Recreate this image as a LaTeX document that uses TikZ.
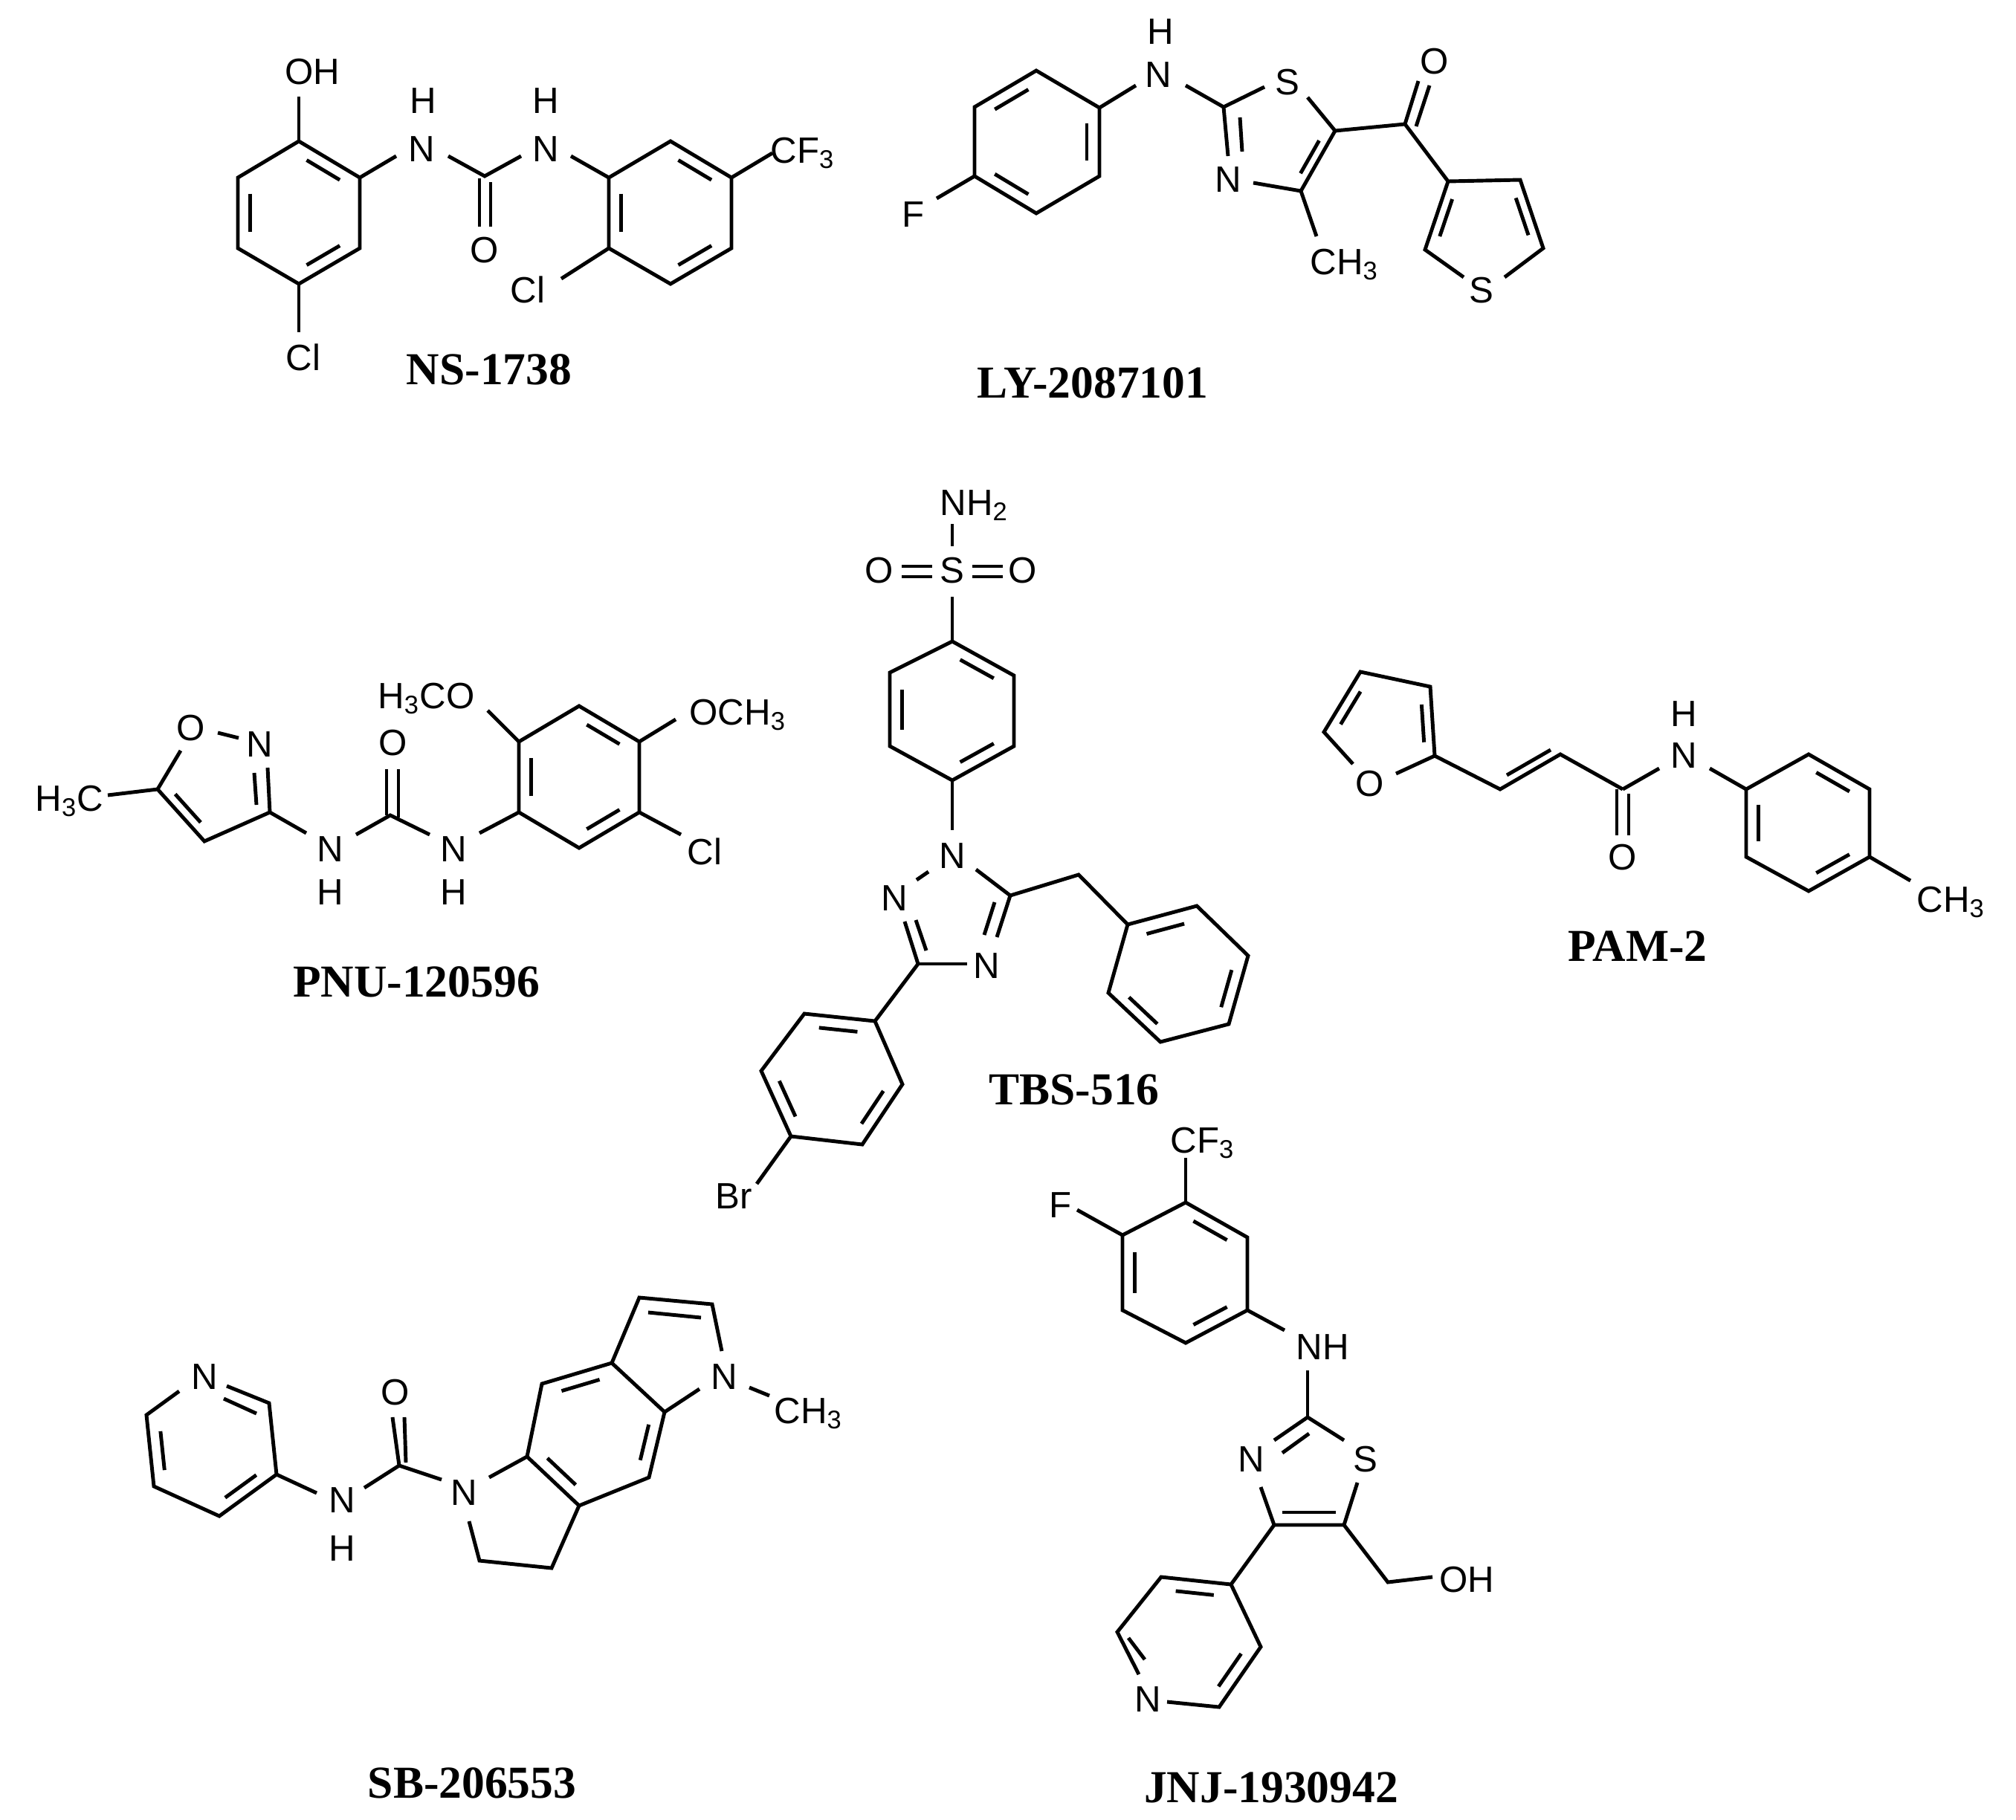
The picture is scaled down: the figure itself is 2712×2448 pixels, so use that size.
\documentclass[tikz,border=0pt]{standalone}
\usepackage{fontspec}
\setmainfont{Liberation Sans}
\newfontfamily\namefont{Liberation Serif}
\usetikzlibrary{calc}
\newcommand\rdb[3]{\draw ($(#1)!0.16!(#2)!0.2!(#3)$) -- ($(#2)!0.16!(#1)!0.2!(#3)$);}
\newcommand\ring[6]{\draw (#1)--(#2)--(#3)--(#4)--(#5)--(#6)--cycle;}
\begin{document}
\begin{tikzpicture}[x=0.01cm,y=-0.01cm,line width=1.4pt,line join=miter,
  atm/.style={inner sep=0pt,font=\fontsize{14}{16}\selectfont},
  nm/.style={inner sep=0pt,font=\fontsize{17.5}{20}\selectfont\namefont\bfseries}]
\useasboundingbox (0,0) rectangle (2712,2448);
% ================= NS-1738
\coordinate (a1) at (402,190); \coordinate (a2) at (484,239); \coordinate (a3) at (484,334);
\coordinate (a4) at (402,382); \coordinate (a5) at (320,334); \coordinate (a6) at (320,239);
\coordinate (ca) at (402,286);
\ring{a1}{a2}{a3}{a4}{a5}{a6}
\rdb{a1}{a2}{ca}\rdb{a6}{a5}{ca}\rdb{a3}{a4}{ca}
\coordinate (ohb) at (402,130); \draw (a1)--(ohb); \node[atm] (oh) at (420,97) {OH};
\coordinate (cl1b) at (402,447); \draw (a4)--(cl1b); \node[atm] (cl1) at (408,481) {Cl};
\coordinate (n1a) at (533,210); \draw (a2)--(n1a);
\node[atm] (n1) at (567,201) {N}; \node[atm] (h1) at (569,136) {H};
\coordinate (n1b) at (603,210); \coordinate (c1) at (652,237); \coordinate (n2a) at (701,210);
\draw (n1b)--(c1)--(n2a);
\draw (645,240)--(645,305); \draw (660,245)--(660,305);
\node[atm] (o1) at (652,337) {O};
\node[atm] (n2) at (734,201) {N}; \node[atm] (h2) at (734,136) {H};
\coordinate (b1) at (902,190); \coordinate (b2) at (984,239); \coordinate (b3) at (984,334);
\coordinate (b4) at (902,382); \coordinate (b5) at (819,334); \coordinate (b6) at (819,239);
\coordinate (cb) at (902,286);
\coordinate (n2b) at (768,210); \draw (n2b)--(b6);
\ring{b1}{b2}{b3}{b4}{b5}{b6}
\rdb{b1}{b2}{cb}\rdb{b6}{b5}{cb}\rdb{b3}{b4}{cb}
\coordinate (cl2b) at (755,375); \draw (b5)--(cl2b); \node[atm] (cl2) at (710,390) {Cl};
\coordinate (cf1b) at (1039,206); \draw (b2)--(cf1b); \node[atm,anchor=west] (cf1) at (1034,206) {CF\textsubscript{3}};
\node[nm] (lab1) at (658,497) {NS-1738};
% ================= LY-2087101
\coordinate (p1) at (1394,95); \coordinate (p2) at (1479,145); \coordinate (p3) at (1479,237);
\coordinate (p4) at (1394,287); \coordinate (p5) at (1311,237); \coordinate (p6) at (1311,144);
\coordinate (cp) at (1394,191);
\ring{p1}{p2}{p3}{p4}{p5}{p6}
\rdb{p6}{p1}{cp}\rdb{p2}{p3}{cp}\rdb{p5}{p4}{cp}
\coordinate (fb) at (1260,267); \draw (p5)--(fb); \node[atm] (f1) at (1229,289) {F};
\coordinate (n3a) at (1528,115); \draw (p2)--(n3a);
\node[atm] (n3) at (1558,101) {N}; \node[atm] (h3) at (1561,43) {H};
\coordinate (n3b) at (1595,115); \coordinate (t2) at (1646,144); \coordinate (s1a) at (1701,117);
\draw (n3b)--(t2)--(s1a); \node[atm] (s1) at (1732,111) {S};
\coordinate (s1b) at (1759,131); \coordinate (t5) at (1796,176); \coordinate (t4) at (1750,257);
\coordinate (n4a) at (1686,246); \coordinate (ct) at (1718,190);
\draw (s1b)--(t5)--(t4)--(n4a); \node[atm] (n4) at (1652,242) {N};
\coordinate (n4b) at (1652,210); \draw (t2)--(n4b); \draw (1668,158)--(1671,204);
\rdb{t5}{t4}{ct}
\coordinate (me1b) at (1771,318); \draw (t4)--(me1b); \node[atm,anchor=west] (me1) at (1760,356) {CH\textsubscript{3}};
\coordinate (k) at (1890,167); \draw (t5)--(k);
\draw (k)--(1908,109); \draw (1905,170)--(1923,115); \node[atm] (o2) at (1930,83) {O};
\coordinate (h3c) at (1948,244); \coordinate (h4c) at (2045,242); \coordinate (h5c) at (2076,334);
\coordinate (h2c) at (1917,336); \coordinate (s2a) at (2024,373); \coordinate (s2b) at (1969,373);
\coordinate (ch) at (1996,305);
\draw (k)--(h3c)--(h4c)--(h5c)--(s2a); \draw (s2b)--(h2c)--(h3c);
\node[atm] (s2) at (1993,391) {S};
\rdb{h3c}{h2c}{ch}\rdb{h4c}{h5c}{ch}
\node[nm] (lab2) at (1470,515) {LY-2087101};
% ================= PNU-120596
\coordinate (i5) at (212,1062); \coordinate (i3) at (363,1093); \coordinate (i4) at (275,1132);
\coordinate (ci) at (290,1050);
\coordinate (o3a) at (243,1010); \draw (i5)--(o3a); \node[atm] (o3) at (257,980) {O};
\draw (293,986)--(321,993); \node[atm] (n5) at (349,1002) {N};
\coordinate (n5b) at (360,1033); \draw (n5b)--(i3)--(i4)--(i5);
\draw (342,1040)--(345,1083); \rdb{i4}{i5}{ci}
\coordinate (me2b) at (145,1070); \draw (i5)--(me2b);
\node[atm,anchor=east] (me2) at (142,1078) {H\textsubscript{3}C};
\coordinate (n6a) at (412,1121); \draw (i3)--(n6a);
\node[atm] (n6) at (444,1143) {N}; \node[atm] (h6) at (444,1201) {H};
\coordinate (n6b) at (479,1123); \coordinate (c2) at (525,1097); \coordinate (n7a) at (578,1123);
\draw (n6b)--(c2)--(n7a);
\draw (520,1097)--(520,1035); \draw (536,1100)--(536,1035);
\node[atm] (o4) at (529,1000) {O};
\node[atm] (n7) at (610,1143) {N}; \node[atm] (h7) at (610,1201) {H};
\coordinate (r1) at (698,1093); \coordinate (r2) at (698,998); \coordinate (r3) at (779,950);
\coordinate (r4) at (860,998); \coordinate (r5) at (860,1093); \coordinate (r6) at (779,1141);
\coordinate (cr) at (779,1045);
\coordinate (n7b) at (645,1121); \draw (n7b)--(r1);
\ring{r1}{r2}{r3}{r4}{r5}{r6}
\rdb{r1}{r2}{cr}\rdb{r3}{r4}{cr}\rdb{r5}{r6}{cr}
\coordinate (om1b) at (656,956); \draw (r2)--(om1b);
\node[atm,anchor=east] (om1) at (641,940) {H\textsubscript{3}CO};
\coordinate (om2b) at (909,968); \draw (r4)--(om2b);
\node[atm,anchor=west] (om2) at (925,962) {OCH\textsubscript{3}};
\coordinate (cl3b) at (916,1123); \draw (r5)--(cl3b); \node[atm] (cl3) at (948,1146) {Cl};
\node[nm] (lab3) at (560,1321) {PNU-120596};
% ================= TBS-516
\node[atm,anchor=west] (nh2) at (1262,680) {NH\textsubscript{2}};
\node[atm] (s3) at (1281,768) {S};
\draw (1281,705)--(1281,735);
\node[atm] (o5) at (1183,768) {O}; \node[atm] (o6) at (1376,768) {O};
\draw (1213,762)--(1254,762); \draw (1213,776)--(1254,776);
\draw (1308,762)--(1349,762); \draw (1308,776)--(1349,776);
\coordinate (s3b) at (1281,803);
\coordinate (u1) at (1281,863); \coordinate (u2) at (1364,909); \coordinate (u3) at (1364,1004);
\coordinate (u4) at (1281,1050); \coordinate (u5) at (1197,1004); \coordinate (u6) at (1197,905);
\coordinate (cu) at (1281,957);
\draw (s3b)--(u1);
\ring{u1}{u2}{u3}{u4}{u5}{u6}
\rdb{u1}{u2}{cu}\rdb{u6}{u5}{cu}\rdb{u3}{u4}{cu}
\coordinate (n8a) at (1281,1117); \draw (u4)--(n8a);
\node[atm] (n8) at (1281,1152) {N};
\draw (1249,1173)--(1233,1184); \node[atm] (n9) at (1203,1209) {N};
\coordinate (v3) at (1235,1297); \coordinate (v5) at (1359,1205); \coordinate (cv) at (1282,1240);
\coordinate (n9b) at (1217,1240); \draw (n9b)--(v3);
\draw (1232,1238)--(1246,1279);
\coordinate (n10a) at (1301,1297); \draw (v3)--(n10a);
\node[atm] (n10) at (1327,1300) {N};
\coordinate (n10b) at (1341,1261); \draw (n10b)--(v5);
\draw (1324,1258)--(1338,1214);
\coordinate (n8b) at (1313,1170); \draw (v5)--(n8b);
\coordinate (m1) at (1451,1177);
\coordinate (w1) at (1517,1244); \coordinate (w2) at (1610,1219); \coordinate (w3) at (1679,1286);
\coordinate (w4) at (1653,1378); \coordinate (w5) at (1561,1402); \coordinate (w6) at (1491,1336);
\coordinate (cw) at (1585,1323);
\draw (v5)--(m1)--(w1);
\ring{w1}{w2}{w3}{w4}{w5}{w6}
\rdb{w1}{w2}{cw}\rdb{w3}{w4}{cw}\rdb{w5}{w6}{cw}
\coordinate (x1) at (1177,1374); \coordinate (x2) at (1082,1364); \coordinate (x3) at (1024,1441);
\coordinate (x4) at (1064,1529); \coordinate (x5) at (1160,1540); \coordinate (x6) at (1214,1459);
\coordinate (cx) at (1120,1452);
\draw (v3)--(x1);
\ring{x1}{x2}{x3}{x4}{x5}{x6}
\rdb{x1}{x2}{cx}\rdb{x3}{x4}{cx}\rdb{x5}{x6}{cx}
\coordinate (brb) at (1018,1593); \draw (x4)--(brb); \node[atm] (br) at (987,1610) {Br};
\node[nm] (lab4) at (1445,1466) {TBS-516};
% ================= PAM-2
\node[atm] (o7) at (1843,1055) {O};
\coordinate (f2) at (1930,1017); \coordinate (f3) at (1924,924); \coordinate (f4) at (1830,904);
\coordinate (f5) at (1781,985); \coordinate (cf) at (1862,985);
\coordinate (o7a) at (1820,1028); \coordinate (o7b) at (1878,1041);
\draw (o7a)--(f5)--(f4)--(f3)--(f2)--(o7b);
\rdb{f2}{f3}{cf}\rdb{f4}{f5}{cf}
\coordinate (g1) at (2018,1062); \coordinate (g2) at (2099,1015); \coordinate (k2) at (2183,1062);
\draw (f2)--(g1)--(g2)--(k2);
\draw (2027,1043)--(2086,1009);
\draw (2175,1062)--(2175,1124); \draw (2191,1068)--(2191,1124);
\node[atm] (o8) at (2183,1154) {O};
\coordinate (n11a) at (2232,1034); \draw (k2)--(n11a);
\node[atm] (n11) at (2265,1017) {N}; \node[atm] (h11) at (2265,961) {H};
\coordinate (q1) at (2349,1062); \coordinate (q2) at (2433,1015); \coordinate (q3) at (2515,1062);
\coordinate (q4) at (2515,1153); \coordinate (q5) at (2433,1199); \coordinate (q6) at (2349,1153);
\coordinate (cq) at (2432,1107);
\coordinate (n11b) at (2300,1034); \draw (n11b)--(q1);
\ring{q1}{q2}{q3}{q4}{q5}{q6}
\rdb{q2}{q3}{cq}\rdb{q1}{q6}{cq}\rdb{q4}{q5}{cq}
\coordinate (me3b) at (2570,1185); \draw (q4)--(me3b);
\node[atm,anchor=west] (me3) at (2576,1214) {CH\textsubscript{3}};
\node[nm] (lab5) at (2203,1273) {PAM-2};
% ================= SB-206553
\node[atm] (n12) at (275,1853) {N};
\coordinate (s2p) at (362,1888); \coordinate (s3p) at (372,1984); \coordinate (s4p) at (295,2040);
\coordinate (s5p) at (207,2000); \coordinate (s6p) at (197,1904); \coordinate (cs) at (285,1952);
\coordinate (n12a) at (241,1872); \coordinate (n12b) at (305,1865);
\draw (n12a)--(s6p)--(s5p)--(s4p)--(s3p)--(s2p)--(n12b);
\draw (301,1882)--(345,1902);
\rdb{s3p}{s4p}{cs}\rdb{s5p}{s6p}{cs}
\coordinate (n13a) at (426,2009); \draw (s3p)--(n13a);
\node[atm] (n13) at (460,2019) {N}; \node[atm] (h13) at (460,2084) {H};
\coordinate (n13b) at (490,2002); \coordinate (cc) at (537,1972); \coordinate (n14a) at (594,1991);
\draw (n13b)--(cc)--(n14a);
\draw (cc)--(528,1907); \draw (546,1968)--(544,1907);
\node[atm] (o9) at (532,1874) {O};
\node[atm] (n14) at (624,2009) {N};
\coordinate (y7a) at (709,1960); \coordinate (y3a) at (779,2026); \coordinate (y4) at (873,1988);
\coordinate (y4a) at (894,1900); \coordinate (y8a) at (823,1834); \coordinate (y8) at (729,1862);
\coordinate (cy) at (801,1928);
\coordinate (n14b) at (658,1988); \coordinate (n14c) at (631,2047);
\coordinate (ch1) at (645,2100); \coordinate (ch2) at (742,2110);
\draw (n14b)--(y7a); \draw (n14c)--(ch1)--(ch2)--(y3a);
\ring{y7a}{y3a}{y4}{y4a}{y8a}{y8}
\rdb{y7a}{y3a}{cy}\rdb{y4}{y4a}{cy}\rdb{y8a}{y8}{cy}
\coordinate (z3) at (860,1746); \coordinate (z2) at (958,1755); \coordinate (n15a) at (971,1818);
\coordinate (n15b) at (941,1869);
\draw (y8a)--(z3)--(z2)--(n15a); \draw (n15b)--(y4a);
\draw (872,1766)--(943,1773);
\node[atm] (n15) at (974,1853) {N};
\draw (1008,1867)--(1035,1878);
\node[atm,anchor=west] (me4) at (1039,1902) {CH\textsubscript{3}};
\node[nm] (lab6) at (635,2399) {SB-206553};
% ================= JNJ-1930942
\node[atm,anchor=west] (cf2) at (1572,1538) {CF\textsubscript{3}};
\coordinate (j3) at (1595,1618); \coordinate (j2) at (1678,1665); \coordinate (j1) at (1678,1763);
\coordinate (j6) at (1595,1807); \coordinate (j5) at (1510,1763); \coordinate (j4) at (1510,1662);
\coordinate (cj) at (1594,1713);
\coordinate (cf2b) at (1595,1558); \draw (cf2b)--(j3);
\ring{j3}{j2}{j1}{j6}{j5}{j4}
\rdb{j3}{j2}{cj}\rdb{j4}{j5}{cj}\rdb{j1}{j6}{cj}
\coordinate (f2b) at (1449,1628); \draw (j4)--(f2b); \node[atm] (fj) at (1427,1622) {F};
\coordinate (n16a) at (1728,1790); \draw (j1)--(n16a);
\node[atm,anchor=west] (n16) at (1741,1813) {NH};
\coordinate (n16b) at (1759,1844); \coordinate (l2) at (1759,1907); \draw (n16b)--(l2);
\coordinate (s4a) at (1808,1938); \draw (l2)--(s4a); \node[atm] (s4) at (1837,1964) {S};
\coordinate (s4b) at (1826,1995); \coordinate (l5) at (1808,2052); \coordinate (l4) at (1714,2052);
\coordinate (n17a) at (1696,2001); \coordinate (n17b) at (1714,1938);
\draw (s4b)--(l5)--(l4)--(n17a); \draw (n17b)--(l2);
\draw (1725,1955)--(1761,1929); \draw (1725,2035)--(1797,2035);
\node[atm] (n17) at (1683,1964) {N};
\coordinate (ch3) at (1867,2129); \coordinate (ohjb) at (1927,2122);
\draw (l5)--(ch3)--(ohjb); \node[atm,anchor=west] (ohj) at (1934,2126) {OH};
\coordinate (o1p) at (1656,2132); \coordinate (o2p) at (1562,2122); \coordinate (o3p) at (1503,2196);
\coordinate (o5p) at (1640,2297); \coordinate (o6p) at (1696,2216); \coordinate (cop) at (1600,2210);
\coordinate (n18a) at (1532,2253); \coordinate (n18b) at (1570,2290);
\draw (l4)--(o1p);
\draw (n18a)--(o3p)--(o2p)--(o1p)--(o6p)--(o5p)--(n18b);
\node[atm] (n18) at (1544,2287) {N};
\rdb{o1p}{o2p}{cop}\rdb{o5p}{o6p}{cop}
\draw (1518,2204)--(1540,2233);
\node[nm] (lab7) at (1710,2405) {JNJ-1930942};
\end{tikzpicture}
\end{document}
